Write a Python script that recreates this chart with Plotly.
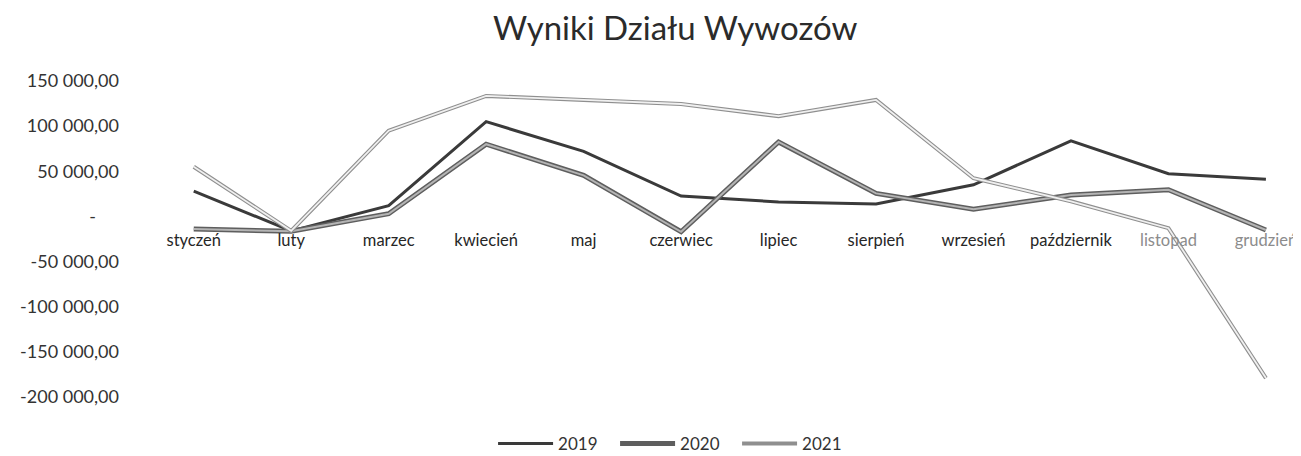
import plotly.graph_objects as go

months = ["styczeń", "luty", "marzec", "kwiecień", "maj", "czerwiec",
          "lipiec", "sierpień", "wrzesień", "październik", "listopad", "grudzień"]
month_colors = ["#262626"] * 10 + ["#8c8c8c", "#8c8c8c"]

y2019 = [28000, -16000, 12000, 105000, 72000, 22500,
         16000, 13700, 35000, 83700, 47300, 41200]
y2020 = [-14000, -16500, 3000, 80000, 45500, -17000,
         82500, 25500, 8000, 23700, 29500, -15000]
y2021 = [55000, -16000, 95000, 133500, 129000, 124500,
         111000, 129000, 42300, 16800, -13000, -179000]

tick_vals = [150000, 100000, 50000, 0, -50000, -100000, -150000, -200000]
tick_text = ["150 000,00", "100 000,00", "50 000,00", "-\u00a0\u00a0\u00a0\u00a0\u00a0",
             "-50 000,00", "-100 000,00", "-150 000,00", "-200 000,00"]

x_idx = list(range(len(months)))

fig = go.Figure()

# 2019: plain dark line
fig.add_trace(go.Scatter(x=x_idx, y=y2019, mode="lines", name="2019",
                         line=dict(color="#3a3a3a", width=3)))

# 2020: dark outline with lighter core
fig.add_trace(go.Scatter(x=x_idx, y=y2020, mode="lines", name="2020",
                         line=dict(color="#5e5e5e", width=5)))
fig.add_trace(go.Scatter(x=x_idx, y=y2020, mode="lines", showlegend=False,
                         line=dict(color="#b4b4b4", width=2)))

# 2021: grey outline with near-white core
fig.add_trace(go.Scatter(x=x_idx, y=y2021, mode="lines", name="2021",
                         line=dict(color="#8f8f8f", width=4)))
fig.add_trace(go.Scatter(x=x_idx, y=y2021, mode="lines", showlegend=False,
                         line=dict(color="#f0f0f0", width=1.8)))

y_min, y_max = -200000, 150000
zero_pos = (0 - y_min) / (y_max - y_min)

tick_labels = [f'<span style="color:{c}">{m}</span>' for m, c in zip(months, month_colors)]

# page body has an 8px default margin, so the figure is 8px smaller than the window
fig.update_layout(
    width=1293,
    height=448,
    margin=dict(l=137, r=0, t=73, b=59),
    paper_bgcolor="white",
    plot_bgcolor="white",
    font=dict(family="Lato, Open Sans, sans-serif", color="#333333"),
    title=dict(text="Wyniki Działu Wywozów", x=0.516, xanchor="center",
               y=0.955, yanchor="middle", font=dict(size=33, color="#2b2b2b")),
    showlegend=True,
    legend=dict(orientation="h", x=0.4594, xanchor="center",
                yref="container", y=0.027, yanchor="middle",
                font=dict(size=17, color="#333333"), itemwidth=55, entrywidth=52),
    xaxis=dict(
        range=[-0.5, 11.36],
        tickvals=x_idx,
        ticktext=tick_labels,
        anchor="free",
        position=zero_pos,
        automargin=False,
        showgrid=False,
        zeroline=False,
        showline=False,
        ticks="outside",
        ticklen=9,
        tickcolor="rgba(0,0,0,0)",
        tickfont=dict(size=16.5),
    ),
    yaxis=dict(
        range=[y_min, y_max],
        tickvals=tick_vals,
        ticktext=tick_text,
        automargin=False,
        showgrid=False,
        zeroline=False,
        showline=False,
        ticklabelstandoff=25,
        tickfont=dict(size=18, color="#333333"),
    ),
)

fig.write_html("out.html")
